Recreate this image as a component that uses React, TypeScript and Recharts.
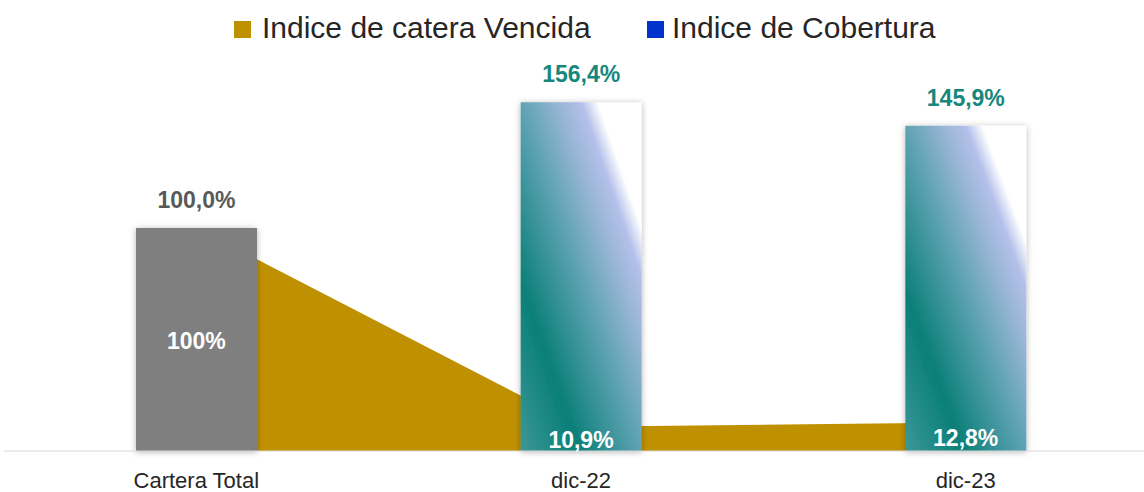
import React from 'react';
import { ComposedChart, Bar, Area, Line, XAxis, YAxis, Cell, LabelList, Legend } from 'recharts';

const categories = ['Cartera Total', 'dic-22', 'dic-23'];
const coberturaValues = [100, 156.4, 145.9];
const vencidaValues = [100, 10.9, 12.8];
const coberturaLabels = ['100,0%', '156,4%', '145,9%'];
const vencidaLabels = ['100%', '10,9%', '12,8%'];
const legendNames = ['Indice de catera Vencida', 'Indice de Cobertura'];
const legendColors = ['#BF9000', '#0033CC'];

const data = categories.map((c, i) => ({
  cat: c,
  cobertura: coberturaValues[i],
  vencida: vencidaValues[i],
}));

const FONT = "'Liberation Sans', Arial, sans-serif";
const CHART_W = 1158;
const CHART_H = 492;
const MARGIN = { top: 5, right: 0, left: 4, bottom: 0 };
const XAXIS_H = 41;
const PLOT_BOTTOM = CHART_H - MARGIN.bottom - XAXIS_H;

const TEAL_LABEL = '#17877D';
const GRAY_LABEL = '#595959';

const renderLegend = () => (
  <div
    style={{
      width: 1144,
      height: 46,
      boxSizing: 'border-box',
      paddingLeft: 234,
      paddingTop: 9,
      display: 'flex',
      alignItems: 'center',
      fontFamily: FONT,
      fontSize: 30,
      lineHeight: '30px',
      color: '#262626',
    }}
  >
    {legendNames.map((n, i) => (
      <div key={n} style={{ display: 'flex', alignItems: 'center', width: i === 0 ? 413 : undefined }}>
        <span style={{ display: 'inline-block', width: 17, height: 17, background: legendColors[i], marginRight: i === 0 ? 11 : 8, marginTop: 3 }} />
        <span>{n}</span>
      </div>
    ))}
  </div>
);

const BarTopLabel = (props: any) => {
  const { x, y, width, index } = props;
  return (
    <text
      x={x + width / 2}
      y={y - 28}
      textAnchor="middle"
      dominantBaseline="central"
      fontFamily={FONT}
      fontWeight="bold"
      fontSize={23}
      fill={index === 0 ? GRAY_LABEL : TEAL_LABEL}
    >
      {coberturaLabels[index]}
    </text>
  );
};

const AreaMidLabel = (props: any) => {
  const { x, y, index } = props;
  return (
    <text
      x={x}
      y={(y + PLOT_BOTTOM) / 2 + 1}
      textAnchor="middle"
      dominantBaseline="central"
      fontFamily={FONT}
      fontWeight="bold"
      fontSize={23}
      fill="#FFFFFF"
    >
      {vencidaLabels[index]}
    </text>
  );
};

const CatTick = (props: any) => {
  const { x, y, payload } = props;
  return (
    <text
      x={x}
      y={y + 29}
      textAnchor="middle"
      dominantBaseline="central"
      fontFamily={FONT}
      fontSize={22}
      fill="#262626"
    >
      {payload.value}
    </text>
  );
};

export default function App() {
  return (
    <div
      style={{
        position: 'fixed',
        left: 0,
        top: 0,
        width: 1144,
        height: 492,
        overflow: 'hidden',
        background: '#FFFFFF',
      }}
    >
      <ComposedChart width={CHART_W} height={CHART_H} data={data} margin={MARGIN} barCategoryGap={0}>
        <defs>
          <linearGradient id="tealGrad" x1="0" y1="1" x2="1" y2="0">
            <stop offset="0" stopColor="#3C9898" />
            <stop offset="0.24" stopColor="#0A7F78" />
            <stop offset="0.5" stopColor="#5FA3B3" />
            <stop offset="0.66" stopColor="#9AB6D6" />
            <stop offset="0.75" stopColor="#B4C0EA" />
            <stop offset="0.82" stopColor="#FFFFFF" />
            <stop offset="1" stopColor="#FFFFFF" />
          </linearGradient>
          <filter id="barShadow" x="-20%" y="-10%" width="140%" height="120%">
            <feDropShadow dx="0" dy="1" stdDeviation="3" floodColor="#000000" floodOpacity="0.3" />
          </filter>
        </defs>
        <Legend verticalAlign="middle" align="center" content={renderLegend} wrapperStyle={{ top: 0, left: 0, width: 1144, height: 46 }} />
        <XAxis
          dataKey="cat"
          height={XAXIS_H}
          axisLine={{ stroke: '#D9D9D9', strokeWidth: 1 }}
          tickLine={false}
          tickSize={0}
          tickMargin={0}
          tick={<CatTick />}
          interval={0}
        />
        <YAxis hide domain={[0, 200]} width={0} />
        <Area
          dataKey="vencida"
          type="linear"
          fill="#BF9000"
          fillOpacity={1}
          stroke="none"
          isAnimationActive={false}
          activeDot={false}
          dot={false}
        />
        <Bar dataKey="cobertura" barSize={121} isAnimationActive={false}>
          {data.map((d, i) => (
            <Cell key={d.cat} fill={i === 0 ? '#7F7F7F' : 'url(#tealGrad)'} filter="url(#barShadow)" />
          ))}
          <LabelList dataKey="cobertura" content={<BarTopLabel />} />
        </Bar>
        <Line
          dataKey="vencida"
          type="linear"
          stroke="none"
          dot={false}
          activeDot={false}
          isAnimationActive={false}
          legendType="none"
        >
          <LabelList dataKey="vencida" content={<AreaMidLabel />} />
        </Line>
      </ComposedChart>
    </div>
  );
}
